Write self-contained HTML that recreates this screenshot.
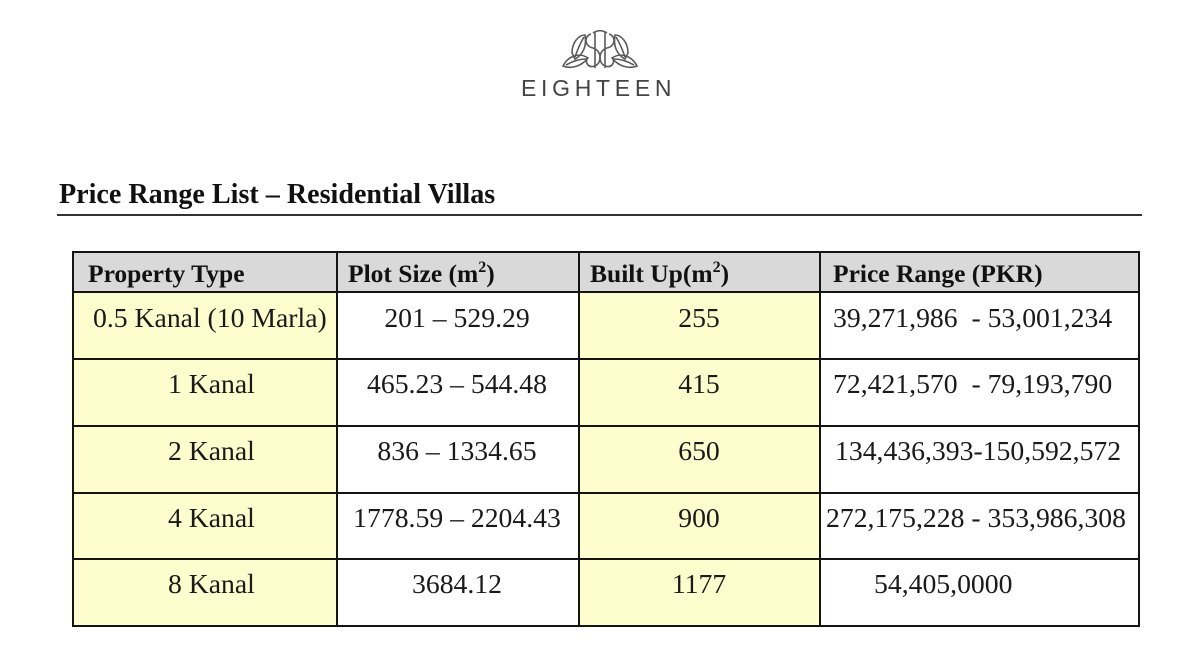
<!DOCTYPE html>
<html><head><meta charset="utf-8"><style>
html,body{margin:0;padding:0;background:#fff;}
body{width:1198px;height:665px;position:relative;overflow:hidden;font-family:"Liberation Serif",serif;color:#1a1a1a;}
.a{position:absolute;white-space:pre;}
.t{font-size:27.7px;line-height:28px;}
.h{font-size:25.5px;line-height:25px;font-weight:bold;color:#111;}
.c{text-align:center;}
.bg{position:absolute;}
.ln{position:absolute;background:#141414;}
sup{font-size:16px;vertical-align:10px;line-height:0;}
</style></head><body>

<!-- logo -->
<svg class="a" style="left:555px;top:28px" width="90" height="45" viewBox="0 0 90 45">
<g fill="none" stroke="#5a5a5a" stroke-width="1.6">
<path d="M8 38 C 13 28, 24 24, 33 30 C 26 39, 15 41, 8 38 Z"/>
<path d="M11 37 C 18 33, 24 31, 31 31"/>
<path d="M17 25 C 17 14, 24 7, 30 7 C 32 18, 28 27, 20 31 Z"/>
<path d="M20 29 C 23 20, 26 14, 29 9"/>
<path d="M82 38 C 77 28, 66 24, 57 30 C 64 39, 75 41, 82 38 Z"/>
<path d="M79 37 C 72 33, 66 31, 59 31"/>
<path d="M73 25 C 73 14, 66 7, 60 7 C 58 18, 62 27, 70 31 Z"/>
<path d="M70 29 C 67 20, 64 14, 61 9"/>
<path d="M40 4 L40 40 M50 4 L50 40"/>
<path d="M36 6 C 29 8, 29 18, 38 20 C 46 22, 48 34, 40 38 C 34 40, 30 36, 32 30"/>
<path d="M54 6 C 61 8, 61 18, 52 20 C 44 22, 42 34, 50 38 C 56 40, 60 36, 58 30"/>
<path d="M38 5 C 42 2, 48 2, 52 5"/>
</g>
</svg>
<div class="a" style="left:521px;top:75px;font-family:'Liberation Sans',sans-serif;font-size:23px;line-height:26px;letter-spacing:4.7px;color:#444;">EIGHTEEN</div>

<!-- title -->
<div class="a" style="left:59px;top:181px;font-size:28.1px;line-height:28px;font-weight:bold;color:#111;">Price Range List – Residential Villas</div>
<div class="ln" style="left:57px;top:214px;width:1085px;height:2px;background:#333;"></div>

<!-- table backgrounds -->
<div class="bg" style="left:72px;top:251px;width:1068px;height:41px;background:#d9d9d9;"></div>
<div class="bg" style="left:72px;top:292px;width:265px;height:335px;background:#fefdce;"></div>
<div class="bg" style="left:578px;top:292px;width:242px;height:335px;background:#fefdce;"></div>

<!-- horizontal lines -->
<div class="ln" style="left:72px;top:251px;width:1068px;height:2px;"></div>
<div class="ln" style="left:72px;top:291px;width:1068px;height:2px;"></div>
<div class="ln" style="left:72px;top:358px;width:1068px;height:2px;"></div>
<div class="ln" style="left:72px;top:425px;width:1068px;height:2px;"></div>
<div class="ln" style="left:72px;top:492px;width:1068px;height:2px;"></div>
<div class="ln" style="left:72px;top:558px;width:1068px;height:2px;"></div>
<div class="ln" style="left:72px;top:625px;width:1068px;height:2px;"></div>
<!-- vertical lines -->
<div class="ln" style="left:72px;top:251px;width:2px;height:376px;"></div>
<div class="ln" style="left:336px;top:251px;width:2px;height:376px;"></div>
<div class="ln" style="left:578px;top:251px;width:2px;height:376px;"></div>
<div class="ln" style="left:819px;top:251px;width:2px;height:376px;"></div>
<div class="ln" style="left:1138px;top:251px;width:2px;height:376px;"></div>

<!-- header -->
<div class="a h" style="left:88px;top:261px;">Property Type</div>
<div class="a h" style="left:348px;top:261px;">Plot Size (m<sup>2</sup>)</div>
<div class="a h" style="left:590px;top:261px;">Built Up(m<sup>2</sup>)</div>
<div class="a h" style="left:833px;top:261px;">Price Range (PKR)</div>

<!-- row 1 -->
<div class="a t" style="left:93px;top:303.5px;">0.5 Kanal (10 Marla)</div>
<div class="a t c" style="left:337px;width:240px;top:303.5px;">201 – 529.29</div>
<div class="a t c" style="left:579px;width:240px;top:303.5px;">255</div>
<div class="a t" style="left:833px;top:303.5px;">39,271,986&nbsp; - 53,001,234</div>
<!-- row 2 -->
<div class="a t" style="left:168px;top:370.2px;">1 Kanal</div>
<div class="a t c" style="left:337px;width:240px;top:370.2px;">465.23 – 544.48</div>
<div class="a t c" style="left:579px;width:240px;top:370.2px;">415</div>
<div class="a t" style="left:833px;top:370.2px;">72,421,570&nbsp; - 79,193,790</div>
<!-- row 3 -->
<div class="a t" style="left:168px;top:436.8px;">2 Kanal</div>
<div class="a t c" style="left:337px;width:240px;top:436.8px;">836 – 1334.65</div>
<div class="a t c" style="left:579px;width:240px;top:436.8px;">650</div>
<div class="a t" style="left:835px;top:436.8px;">134,436,393-150,592,572</div>
<!-- row 4 -->
<div class="a t" style="left:168px;top:503.5px;">4 Kanal</div>
<div class="a t c" style="left:337px;width:240px;top:503.5px;">1778.59 – 2204.43</div>
<div class="a t c" style="left:579px;width:240px;top:503.5px;">900</div>
<div class="a t" style="left:826px;top:503.5px;">272,175,228 - 353,986,308</div>
<!-- row 5 -->
<div class="a t" style="left:168px;top:570.2px;">8 Kanal</div>
<div class="a t c" style="left:337px;width:240px;top:570.2px;">3684.12</div>
<div class="a t c" style="left:579px;width:240px;top:570.2px;">1177</div>
<div class="a t" style="left:874px;top:570.2px;">54,405,0000</div>

</body></html>
